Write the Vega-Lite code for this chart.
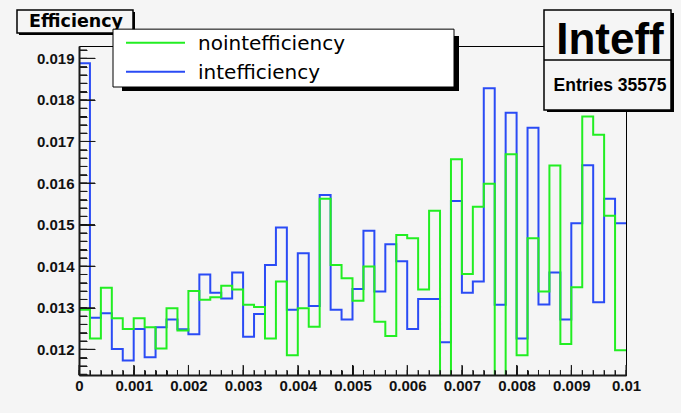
{
  "$schema": "https://vega.github.io/schema/vega-lite/v6.json",
  "width": 547,
  "height": 329,
  "autosize": {"type": "none"},
  "padding": {"left": 79, "top": 46, "right": 55, "bottom": 38},
  "background": "#f5f5f5",
  "config": {"view": {"stroke": "#000", "strokeWidth": 1, "fill": "#f5f5f5"}, "axis": {"grid": false}},
  "datasets": {
    "inteff": [
      {"x": 0, "v": 0.01888}, {"x": 0.0002, "v": 0.01276}, {"x": 0.0004, "v": 0.01287}, {"x": 0.0006, "v": 0.01201}, {"x": 0.0008, "v": 0.01173},
      {"x": 0.001, "v": 0.01249}, {"x": 0.0012, "v": 0.01181}, {"x": 0.0014, "v": 0.01253}, {"x": 0.0016, "v": 0.01272}, {"x": 0.0018, "v": 0.01248},
      {"x": 0.002, "v": 0.01236}, {"x": 0.0022, "v": 0.0138}, {"x": 0.0024, "v": 0.01336}, {"x": 0.0026, "v": 0.01322}, {"x": 0.0028, "v": 0.01385},
      {"x": 0.003, "v": 0.0123}, {"x": 0.0032, "v": 0.01285}, {"x": 0.0034, "v": 0.01403}, {"x": 0.0036, "v": 0.01493}, {"x": 0.0038, "v": 0.01295},
      {"x": 0.004, "v": 0.01431}, {"x": 0.0042, "v": 0.01304}, {"x": 0.0044, "v": 0.01571}, {"x": 0.0046, "v": 0.01295}, {"x": 0.0048, "v": 0.01272},
      {"x": 0.005, "v": 0.01345}, {"x": 0.0052, "v": 0.01485}, {"x": 0.0054, "v": 0.01339}, {"x": 0.0056, "v": 0.01453}, {"x": 0.0058, "v": 0.01412},
      {"x": 0.006, "v": 0.01249}, {"x": 0.0062, "v": 0.01321}, {"x": 0.0064, "v": 0.01321}, {"x": 0.0066, "v": 0.01217}, {"x": 0.0068, "v": 0.01557},
      {"x": 0.007, "v": 0.01336}, {"x": 0.0072, "v": 0.01363}, {"x": 0.0074, "v": 0.01828}, {"x": 0.0076, "v": 0.01307}, {"x": 0.0078, "v": 0.01769},
      {"x": 0.008, "v": 0.01226}, {"x": 0.0082, "v": 0.01733}, {"x": 0.0084, "v": 0.01308}, {"x": 0.0086, "v": 0.01385}, {"x": 0.0088, "v": 0.01272},
      {"x": 0.009, "v": 0.01503}, {"x": 0.0092, "v": 0.01643}, {"x": 0.0094, "v": 0.01313}, {"x": 0.0096, "v": 0.01562}, {"x": 0.0098, "v": 0.01503},
      {"x": 0.01, "v": 0.01503}
    ],
    "nointeff": [
      {"x": 0, "v": 0.01295}, {"x": 0.0002, "v": 0.01226}, {"x": 0.0004, "v": 0.01348}, {"x": 0.0006, "v": 0.01275}, {"x": 0.0008, "v": 0.01249},
      {"x": 0.001, "v": 0.01275}, {"x": 0.0012, "v": 0.01253}, {"x": 0.0014, "v": 0.01202}, {"x": 0.0016, "v": 0.01299}, {"x": 0.0018, "v": 0.01245},
      {"x": 0.002, "v": 0.0134}, {"x": 0.0022, "v": 0.01319}, {"x": 0.0024, "v": 0.01325}, {"x": 0.0026, "v": 0.01353}, {"x": 0.0028, "v": 0.01344},
      {"x": 0.003, "v": 0.01307}, {"x": 0.0032, "v": 0.01302}, {"x": 0.0034, "v": 0.01226}, {"x": 0.0036, "v": 0.01363}, {"x": 0.0038, "v": 0.01186},
      {"x": 0.004, "v": 0.01299}, {"x": 0.0042, "v": 0.01254}, {"x": 0.0044, "v": 0.01562}, {"x": 0.0046, "v": 0.01403}, {"x": 0.0048, "v": 0.01371},
      {"x": 0.005, "v": 0.01317}, {"x": 0.0052, "v": 0.01399}, {"x": 0.0054, "v": 0.01266}, {"x": 0.0056, "v": 0.01232}, {"x": 0.0058, "v": 0.01475},
      {"x": 0.006, "v": 0.01467}, {"x": 0.0062, "v": 0.01344}, {"x": 0.0064, "v": 0.01533}, {"x": 0.0066, "v": 0.0112}, {"x": 0.0068, "v": 0.01657},
      {"x": 0.007, "v": 0.01381}, {"x": 0.0072, "v": 0.01543}, {"x": 0.0074, "v": 0.01598}, {"x": 0.0076, "v": 0.0112}, {"x": 0.0078, "v": 0.01669},
      {"x": 0.008, "v": 0.01186}, {"x": 0.0082, "v": 0.01467}, {"x": 0.0084, "v": 0.01339}, {"x": 0.0086, "v": 0.01642}, {"x": 0.0088, "v": 0.01213},
      {"x": 0.009, "v": 0.01349}, {"x": 0.0092, "v": 0.0176}, {"x": 0.0094, "v": 0.01716}, {"x": 0.0096, "v": 0.01521}, {"x": 0.0098, "v": 0.01198},
      {"x": 0.01, "v": 0.01198}
    ],
    "xticks": [
      {"t": 0, "kind": "major"}, {"t": 0.0002, "kind": "minor"}, {"t": 0.0004, "kind": "minor"}, {"t": 0.0006, "kind": "minor"}, {"t": 0.0008, "kind": "minor"},
      {"t": 0.001, "kind": "major"}, {"t": 0.0012, "kind": "minor"}, {"t": 0.0014, "kind": "minor"}, {"t": 0.0016, "kind": "minor"}, {"t": 0.0018, "kind": "minor"},
      {"t": 0.002, "kind": "major"}, {"t": 0.0022, "kind": "minor"}, {"t": 0.0024, "kind": "minor"}, {"t": 0.0026, "kind": "minor"}, {"t": 0.0028, "kind": "minor"},
      {"t": 0.003, "kind": "major"}, {"t": 0.0032, "kind": "minor"}, {"t": 0.0034, "kind": "minor"}, {"t": 0.0036, "kind": "minor"}, {"t": 0.0038, "kind": "minor"},
      {"t": 0.004, "kind": "major"}, {"t": 0.0042, "kind": "minor"}, {"t": 0.0044, "kind": "minor"}, {"t": 0.0046, "kind": "minor"}, {"t": 0.0048, "kind": "minor"},
      {"t": 0.005, "kind": "major"}, {"t": 0.0052, "kind": "minor"}, {"t": 0.0054, "kind": "minor"}, {"t": 0.0056, "kind": "minor"}, {"t": 0.0058, "kind": "minor"},
      {"t": 0.006, "kind": "major"}, {"t": 0.0062, "kind": "minor"}, {"t": 0.0064, "kind": "minor"}, {"t": 0.0066, "kind": "minor"}, {"t": 0.0068, "kind": "minor"},
      {"t": 0.007, "kind": "major"}, {"t": 0.0072, "kind": "minor"}, {"t": 0.0074, "kind": "minor"}, {"t": 0.0076, "kind": "minor"}, {"t": 0.0078, "kind": "minor"},
      {"t": 0.008, "kind": "major"}, {"t": 0.0082, "kind": "minor"}, {"t": 0.0084, "kind": "minor"}, {"t": 0.0086, "kind": "minor"}, {"t": 0.0088, "kind": "minor"},
      {"t": 0.009, "kind": "major"}, {"t": 0.0092, "kind": "minor"}, {"t": 0.0094, "kind": "minor"}, {"t": 0.0096, "kind": "minor"}, {"t": 0.0098, "kind": "minor"},
      {"t": 0.01, "kind": "major"}
    ],
    "yticks": [
      {"t": 0.0114, "kind": "minor"}, {"t": 0.0116, "kind": "minor"}, {"t": 0.0118, "kind": "minor"},
      {"t": 0.012, "kind": "major"}, {"t": 0.0122, "kind": "minor"}, {"t": 0.0124, "kind": "minor"}, {"t": 0.0126, "kind": "minor"}, {"t": 0.0128, "kind": "minor"},
      {"t": 0.013, "kind": "major"}, {"t": 0.0132, "kind": "minor"}, {"t": 0.0134, "kind": "minor"}, {"t": 0.0136, "kind": "minor"}, {"t": 0.0138, "kind": "minor"},
      {"t": 0.014, "kind": "major"}, {"t": 0.0142, "kind": "minor"}, {"t": 0.0144, "kind": "minor"}, {"t": 0.0146, "kind": "minor"}, {"t": 0.0148, "kind": "minor"},
      {"t": 0.015, "kind": "major"}, {"t": 0.0152, "kind": "minor"}, {"t": 0.0154, "kind": "minor"}, {"t": 0.0156, "kind": "minor"}, {"t": 0.0158, "kind": "minor"},
      {"t": 0.016, "kind": "major"}, {"t": 0.0162, "kind": "minor"}, {"t": 0.0164, "kind": "minor"}, {"t": 0.0166, "kind": "minor"}, {"t": 0.0168, "kind": "minor"},
      {"t": 0.017, "kind": "major"}, {"t": 0.0172, "kind": "minor"}, {"t": 0.0174, "kind": "minor"}, {"t": 0.0176, "kind": "minor"}, {"t": 0.0178, "kind": "minor"},
      {"t": 0.018, "kind": "major"}, {"t": 0.0182, "kind": "minor"}, {"t": 0.0184, "kind": "minor"}, {"t": 0.0186, "kind": "minor"}, {"t": 0.0188, "kind": "minor"},
      {"t": 0.019, "kind": "major"}, {"t": 0.0192, "kind": "minor"}
    ],
    "one": [{}]
  },
  "layer": [
    {
      "data": {"name": "inteff"},
      "mark": {"type": "line", "interpolate": "step-after", "color": "#2a4bf5", "strokeWidth": 2, "clip": true},
      "encoding": {
        "x": {"field": "x", "type": "quantitative", "scale": {"domain": [0, 0.01], "nice": false, "zero": false},
          "axis": {"orient": "bottom", "title": null, "offset": -5, "tickSize": 5, "tickColor": "#1a1a1a", "zindex": 1, "domain": false,
            "values": [0, 0.0002, 0.0004, 0.0006, 0.0008, 0.001, 0.0012, 0.0014, 0.0016, 0.0018, 0.002, 0.0022, 0.0024, 0.0026, 0.0028, 0.003, 0.0032, 0.0034, 0.0036, 0.0038, 0.004, 0.0042, 0.0044, 0.0046, 0.0048, 0.005, 0.0052, 0.0054, 0.0056, 0.0058, 0.006, 0.0062, 0.0064, 0.0066, 0.0068, 0.007, 0.0072, 0.0074, 0.0076, 0.0078, 0.008, 0.0082, 0.0084, 0.0086, 0.0088, 0.009, 0.0092, 0.0094, 0.0096, 0.0098, 0.01],
            "labelExpr": "abs(datum.value * 1000 - round(datum.value * 1000)) < 0.001 ? format(datum.value, '~g') : ''",
            "labelFont": "Liberation Sans", "labelFontWeight": "bold", "labelFontSize": 15, "labelColor": "#111", "labelPadding": 3, "labelFlush": false, "labelOverlap": false}},
        "y": {"field": "v", "type": "quantitative", "scale": {"domain": [0.011382, 0.019296], "nice": false, "zero": false},
          "axis": {"orient": "left", "title": null, "offset": -8, "tickSize": 8, "tickColor": "#1a1a1a", "zindex": 1, "domain": false,
            "values": [0.0114, 0.0116, 0.0118, 0.012, 0.0122, 0.0124, 0.0126, 0.0128, 0.013, 0.0132, 0.0134, 0.0136, 0.0138, 0.014, 0.0142, 0.0144, 0.0146, 0.0148, 0.015, 0.0152, 0.0154, 0.0156, 0.0158, 0.016, 0.0162, 0.0164, 0.0166, 0.0168, 0.017, 0.0172, 0.0174, 0.0176, 0.0178, 0.018, 0.0182, 0.0184, 0.0186, 0.0188, 0.019, 0.0192],
            "labelExpr": "abs(datum.value * 1000 - round(datum.value * 1000)) < 0.001 ? format(datum.value, '~g') : ''",
            "labelFont": "Liberation Sans", "labelFontWeight": "bold", "labelFontSize": 15, "labelColor": "#111", "labelPadding": 5, "labelOverlap": false}}
      }
    },
    {
      "data": {"name": "nointeff"},
      "mark": {"type": "line", "interpolate": "step-after", "color": "#22ee22", "strokeWidth": 2, "clip": true},
      "encoding": {
        "x": {"field": "x", "type": "quantitative",
          "axis": {"orient": "top", "title": null, "labels": false, "domain": true, "domainColor": "#1a1a1a", "domainWidth": 2, "offset": -329, "tickSize": 10, "tickColor": "#1a1a1a", "zindex": 1,
            "values": [0, 0.001, 0.002, 0.003, 0.004, 0.005, 0.006, 0.007, 0.008, 0.009, 0.01]}},
        "y": {"field": "v", "type": "quantitative",
          "axis": {"orient": "right", "title": null, "labels": false, "domain": true, "domainColor": "#1a1a1a", "domainWidth": 2, "offset": -547, "tickSize": 16, "tickColor": "#1a1a1a", "zindex": 1,
            "values": [0.012, 0.013, 0.014, 0.015, 0.016, 0.017, 0.018, 0.019]}}
      }
    },
    {
      "data": {"name": "yticks"},
      "mark": {"type": "rule", "color": "#111", "strokeWidth": 1},
      "encoding": {"y": {"field": "t", "type": "quantitative", "axis": null},
        "x": {"datum": 0, "type": "quantitative", "axis": null}, "x2": {"datum": 0.000146}}
    },
    {
      "data": {"name": "yticks"},
      "transform": [{"filter": "datum.kind === 'major'"}],
      "mark": {"type": "rule", "color": "#111", "strokeWidth": 1},
      "encoding": {"y": {"field": "t", "type": "quantitative", "axis": null},
        "x": {"datum": 0, "type": "quantitative", "axis": null}, "x2": {"datum": 0.0002925}}
    },
    {
      "data": {"name": "xticks"},
      "mark": {"type": "rule", "color": "#111", "strokeWidth": 1},
      "encoding": {"x": {"field": "t", "type": "quantitative", "axis": null},
        "y": {"datum": 0.011382, "type": "quantitative", "axis": null}, "y2": {"datum": 0.0115023}}
    },
    {
      "data": {"name": "xticks"},
      "transform": [{"filter": "datum.kind === 'major'"}],
      "mark": {"type": "rule", "color": "#111", "strokeWidth": 1},
      "encoding": {"x": {"field": "t", "type": "quantitative", "axis": null},
        "y": {"datum": 0.011382, "type": "quantitative", "axis": null}, "y2": {"datum": 0.011623}}
    },
    {
      "data": {"name": "one"},
      "mark": {"type": "rect", "fill": "#000"},
      "encoding": {"x": {"datum": -0.0010969, "type": "quantitative", "axis": null}, "x2": {"datum": 0.0010238},
        "y": {"datum": 0.020114, "type": "quantitative", "axis": null}, "y2": {"datum": 0.019561}}
    },
    {
      "data": {"name": "one"},
      "mark": {"type": "rect", "fill": "#f5f5f5", "stroke": "#000", "strokeWidth": 1.5},
      "encoding": {"x": {"datum": -0.0011335, "type": "quantitative", "axis": null}, "x2": {"datum": 0.0009872},
        "y": {"datum": 0.020162, "type": "quantitative", "axis": null}, "y2": {"datum": 0.019609}}
    },
    {
      "data": {"name": "one"},
      "mark": {"type": "text", "text": "Efficiency", "font": "DejaVu Sans", "fontWeight": "bold", "fontSize": 17.5, "align": "center", "baseline": "middle", "fill": "#000"},
      "encoding": {"x": {"datum": -0.0000548, "type": "quantitative", "axis": null}, "y": {"datum": 0.019873, "type": "quantitative", "axis": null}}
    },
    {
      "data": {"name": "one"},
      "mark": {"type": "rect", "fill": "#000"},
      "encoding": {"x": {"datum": 0.0007861, "type": "quantitative", "axis": null}, "x2": {"datum": 0.006947},
        "y": {"datum": 0.0195366, "type": "quantitative", "axis": null}, "y2": {"datum": 0.0182135}}
    },
    {
      "data": {"name": "one"},
      "mark": {"type": "rect", "fill": "#ffffff", "stroke": "#000", "strokeWidth": 1},
      "encoding": {"x": {"datum": 0.0006216, "type": "quantitative", "axis": null}, "x2": {"datum": 0.0068556},
        "y": {"datum": 0.0197012, "type": "quantitative", "axis": null}, "y2": {"datum": 0.0183097}}
    },
    {
      "data": {"name": "one"},
      "mark": {"type": "rule", "color": "#22ee22", "strokeWidth": 2},
      "encoding": {"x": {"datum": 0.0008592, "type": "quantitative", "axis": null}, "x2": {"datum": 0.0019378},
        "y": {"datum": 0.0193754, "type": "quantitative", "axis": null}}
    },
    {
      "data": {"name": "one"},
      "mark": {"type": "rule", "color": "#2a4bf5", "strokeWidth": 2},
      "encoding": {"x": {"datum": 0.0008592, "type": "quantitative", "axis": null}, "x2": {"datum": 0.0019378},
        "y": {"datum": 0.0186778, "type": "quantitative", "axis": null}}
    },
    {
      "data": {"name": "one"},
      "mark": {"type": "text", "text": "nointefficiency", "font": "DejaVu Sans", "fontSize": 20, "align": "left", "baseline": "alphabetic", "fill": "#000"},
      "encoding": {"x": {"datum": 0.0021755, "type": "quantitative", "axis": null}, "y": {"datum": 0.0192, "type": "quantitative", "axis": null}}
    },
    {
      "data": {"name": "one"},
      "mark": {"type": "text", "text": "intefficiency", "font": "DejaVu Sans", "fontSize": 20, "align": "left", "baseline": "alphabetic", "fill": "#000"},
      "encoding": {"x": {"datum": 0.0021755, "type": "quantitative", "axis": null}, "y": {"datum": 0.0185022, "type": "quantitative", "axis": null}}
    },
    {
      "data": {"name": "one"},
      "mark": {"type": "rect", "fill": "#000"},
      "encoding": {"x": {"datum": 0.0085557, "type": "quantitative", "axis": null}, "x2": {"datum": 0.0108774},
        "y": {"datum": 0.0200898, "type": "quantitative", "axis": null}, "y2": {"datum": 0.0177084}}
    },
    {
      "data": {"name": "one"},
      "mark": {"type": "rect", "fill": "#f5f5f5", "stroke": "#000", "strokeWidth": 1.5},
      "encoding": {"x": {"datum": 0.0085009, "type": "quantitative", "axis": null}, "x2": {"datum": 0.0108226},
        "y": {"datum": 0.020162, "type": "quantitative", "axis": null}, "y2": {"datum": 0.0177565}}
    },
    {
      "data": {"name": "one"},
      "mark": {"type": "rule", "color": "#000", "strokeWidth": 1.5},
      "encoding": {"x": {"datum": 0.0085009, "type": "quantitative", "axis": null}, "x2": {"datum": 0.0108226},
        "y": {"datum": 0.0189592, "type": "quantitative", "axis": null}}
    },
    {
      "data": {"name": "one"},
      "mark": {"type": "text", "text": "Inteff", "font": "Liberation Sans", "fontWeight": "bold", "fontSize": 44, "align": "center", "baseline": "alphabetic", "fill": "#000"},
      "encoding": {"x": {"datum": 0.0097075, "type": "quantitative", "axis": null}, "y": {"datum": 0.0191036, "type": "quantitative", "axis": null}}
    },
    {
      "data": {"name": "one"},
      "mark": {"type": "text", "text": "Entries 35575", "font": "Liberation Sans", "fontWeight": "bold", "fontSize": 17.5, "align": "center", "baseline": "alphabetic", "fill": "#000"},
      "encoding": {"x": {"datum": 0.0097075, "type": "quantitative", "axis": null}, "y": {"datum": 0.0182135, "type": "quantitative", "axis": null}}
    }
  ],
  "resolve": {"axis": {"x": "independent", "y": "independent"}}
}
